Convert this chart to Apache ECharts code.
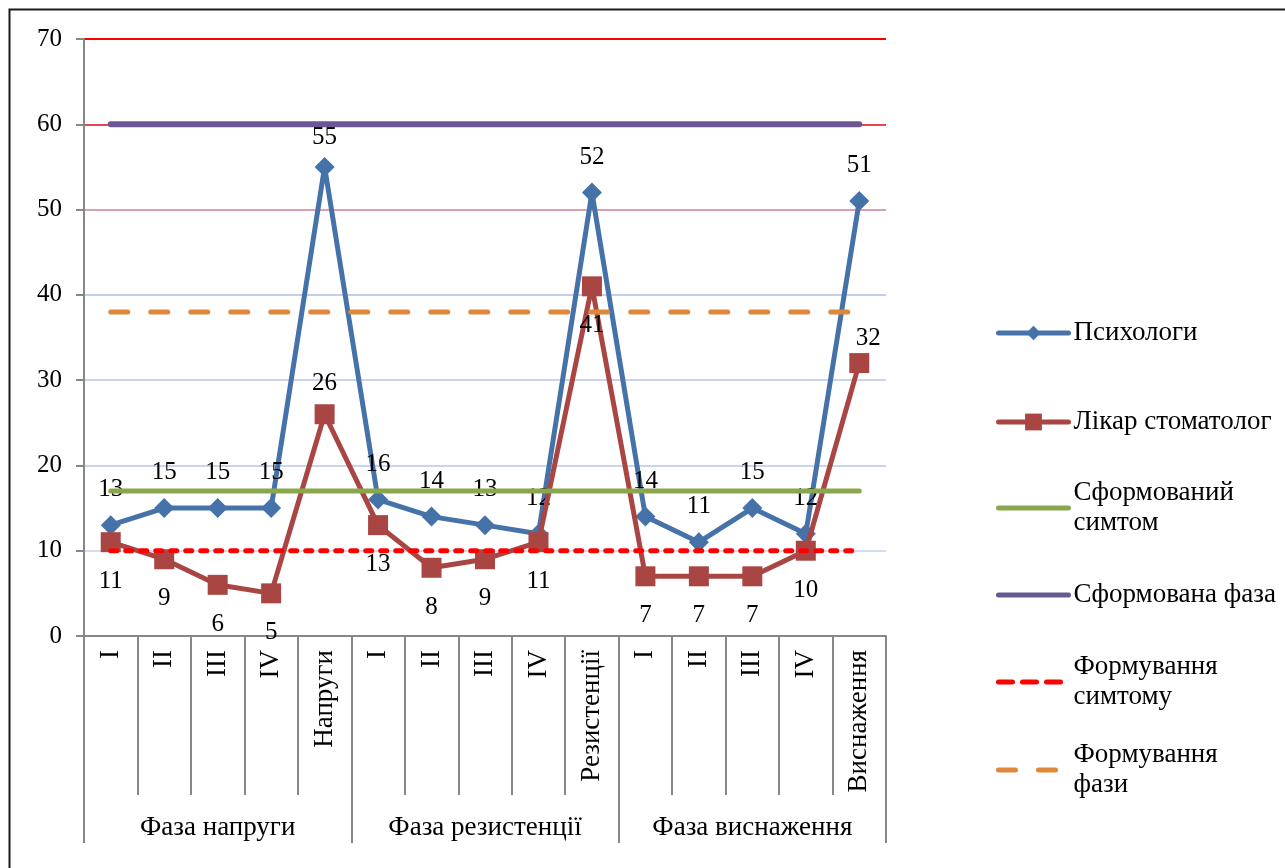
<!DOCTYPE html>
<html>
<head>
<meta charset="utf-8">
<script src="https://cdn.jsdelivr.net/npm/echarts@6/dist/echarts.min.js"></script>
<style>
  html, body { margin: 0; padding: 0; background: #fff; }
  #chart { width: 1285px; height: 868px; }
</style>
</head>
<body>
<div id="chart"></div>
<script>
// Stage points on the lower axis level and the three phases above them
const stageLabels = ['I', 'II', 'III', 'IV', 'Напруги',
                     'I', 'II', 'III', 'IV', 'Резистенції',
                     'I', 'II', 'III', 'IV', 'Виснаження'];
const phaseLabels = ['Фаза напруги', 'Фаза резистенції', 'Фаза виснаження'];

// Scores per stage
const psychologists = [13, 15, 15, 15, 55, 16, 14, 13, 12, 52, 14, 11, 15, 12, 51];
const dentists      = [11, 9, 6, 5, 26, 13, 8, 9, 11, 41, 7, 7, 7, 10, 32];

// Threshold levels
const formedSymptomLevel   = 17;
const formedPhaseLevel     = 60;
const formingSymptomLevel  = 10;
const formingPhaseLevel    = 38;

// Value axis ticks
const yTicks = [0, 10, 20, 30, 40, 50, 60, 70];

const FONT = 'Liberation Serif, "Times New Roman", serif';
const AXIS_GREY = '#878787';
const TEXT_SIZE = 27;
const NUM_SIZE = 25;

const level = v => stageLabels.map(() => v);

// label placement tweaks: [dx, dy] offsets, and dentist labels drawn above the marker
const psychLabelShift = { 4: [0, 6] };
const dentistLabelAbove = { 4: [0, 0], 14: [9, 6] };

const chart = echarts.init(document.getElementById('chart'), null, { renderer: 'canvas' });

const names = ['Психологи', 'Лікар стоматолог', 'Сформований\nсимтом', 'Сформована фаза',
               'Формування\nсимтому', 'Формування\nфази'];
const legendTops = [318, 407, 463, 580, 637, 725];
const legendMarker = [true, true, false, false, false, false];
const legendMarkerBox = [18, 21, 18, 18, 18, 18];
// legend swatch dash patterns (null keeps the series line style)
const legendDash = [null, null, null, null, [14, 10], [17, 23]];

const legends = names.map((n, i) => ({
  data: [n],
  orient: 'vertical',
  left: 996,
  top: legendTops[i],
  padding: 0,
  itemWidth: 70,
  itemHeight: legendMarkerBox[i],
  itemGap: 0,
  selectedMode: false,
  lineStyle: legendDash[i] ? { width: 5, cap: 'round', type: legendDash[i] } : { width: 5, cap: 'round' },
  itemStyle: legendMarker[i] ? {} : { opacity: 0 },
  textStyle: {
    fontFamily: FONT, fontSize: TEXT_SIZE, color: '#000', lineHeight: 30,
    padding: n.indexOf('\n') >= 0 ? [30, 0, 0, 0] : 0
  }
}));

const option = {
  animation: false,
  backgroundColor: '#fff',
  textStyle: { fontFamily: FONT },
  graphic: [{
    type: 'rect',
    shape: { x: 9.5, y: 9.5, width: 1400, height: 1000 },
    style: { fill: 'none', stroke: '#1a1a1a', lineWidth: 2 },
    silent: true
  }],
  legend: legends,
  grid: { left: 84, right: 399, top: 39, bottom: 232, containLabel: false },
  xAxis: [{
    type: 'category',
    data: stageLabels,
    boundaryGap: true,
    axisLine: { lineStyle: { color: AXIS_GREY, width: 2 } },
    axisTick: { show: true, interval: 0, length: 159, lineStyle: { color: AXIS_GREY, width: 2 } },
    axisLabel: { interval: 0, rotate: 90, margin: 14, color: '#000', fontFamily: FONT, fontSize: TEXT_SIZE },
    splitLine: { show: false }
  }, {
    type: 'category',
    data: phaseLabels,
    position: 'bottom',
    offset: 159,
    boundaryGap: true,
    axisLine: { show: false },
    axisTick: { show: true, interval: 0, length: 48, lineStyle: { color: AXIS_GREY, width: 2 } },
    axisLabel: { interval: 0, margin: 19, color: '#000', fontFamily: FONT, fontSize: TEXT_SIZE },
    splitLine: { show: false }
  }],
  yAxis: {
    type: 'value',
    min: yTicks[0],
    max: yTicks[yTicks.length - 1],
    interval: yTicks[1] - yTicks[0],
    axisLine: { show: true, lineStyle: { color: AXIS_GREY, width: 2 } },
    axisTick: { show: true, length: 8, lineStyle: { color: AXIS_GREY, width: 2 } },
    axisLabel: { margin: 22, color: '#000', fontFamily: FONT, fontSize: NUM_SIZE,
                 formatter: v => String(v) },
    splitLine: {
      show: true,
      lineStyle: {
        width: 2,
        color: ['#c6d3ea', '#d3ddf0', '#c9d5ec', '#c9d5ec', '#c2cfe9', '#dba0ae', '#e8474f', '#ff0000']
      }
    }
  },
  series: [{
    name: names[0],
    type: 'line',
    data: psychologists.map((v, i) => psychLabelShift[i]
      ? { value: v, label: { offset: psychLabelShift[i] } }
      : v),
    symbol: 'diamond',
    symbolSize: 20,
    lineStyle: { color: '#4672aa', width: 5 },
    itemStyle: { color: '#4672aa' },
    label: { show: true, position: 'top', distance: 13, color: '#000', fontFamily: FONT, fontSize: NUM_SIZE },
    z: 2
  }, {
    name: names[1],
    type: 'line',
    data: dentists.map((v, i) => dentistLabelAbove[i]
      ? { value: v, label: { position: 'top', distance: 8, offset: dentistLabelAbove[i] } }
      : v),
    symbol: 'rect',
    symbolSize: 20,
    lineStyle: { color: '#a94643', width: 5 },
    itemStyle: { color: '#a94643' },
    label: { show: true, position: 'bottom', distance: 17, color: '#000', fontFamily: FONT, fontSize: NUM_SIZE },
    z: 3
  }, {
    name: names[2],
    type: 'line',
    data: level(formedSymptomLevel),
    symbol: 'none',
    lineStyle: { color: '#8aa84b', width: 5, cap: 'round' },
    itemStyle: { color: '#8aa84b' },
    z: 4
  }, {
    name: names[3],
    type: 'line',
    data: level(formedPhaseLevel),
    symbol: 'none',
    lineStyle: { color: '#6b5893', width: 6, cap: 'round' },
    itemStyle: { color: '#6b5893' },
    z: 4
  }, {
    name: names[4],
    type: 'line',
    data: level(formingSymptomLevel),
    symbol: 'none',
    lineStyle: { color: '#ff0000', width: 5, cap: 'round', type: [6, 9] },
    itemStyle: { color: '#ff0000' },
    z: 4
  }, {
    name: names[5],
    type: 'line',
    data: level(formingPhaseLevel),
    symbol: 'none',
    lineStyle: { color: '#e0883a', width: 5, cap: 'round', type: [17, 23] },
    itemStyle: { color: '#e0883a' },
    z: 4
  }]
};

chart.setOption(option);
</script>
</body>
</html>
